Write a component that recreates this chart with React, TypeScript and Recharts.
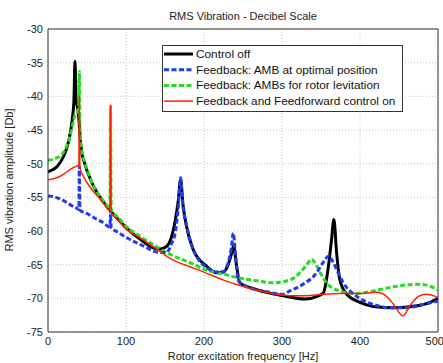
import { LineChart, Line, XAxis, YAxis, CartesianGrid, ReferenceLine } from "recharts";

// Control off
const offF = [0, 6, 12, 20, 27, 31, 33.3, 34.6, 36, 37.5, 39.7, 41, 43, 46, 55, 65, 80, 90, 101, 118, 130, 143, 152, 158, 163, 167, 170, 173, 177.5, 186, 203, 216, 225, 231, 235, 238, 241, 246, 267, 300, 330, 345, 353, 359, 363.5, 366.5, 370, 374, 383, 400, 417, 443, 473, 490, 500];
const offDb = [-51.2, -50.9, -50.4, -48.9, -46.4, -43.5, -40.5, -34.8, -40.5, -41.5, -43.5, -46, -48.2, -49.6, -52.5, -54.7, -57, -58.3, -59.6, -61.2, -62.2, -62.7, -62.3, -61, -58.5, -55.5, -52.4, -56, -59.3, -62.7, -65.2, -66.2, -66.1, -65, -63.5, -62.2, -64.5, -67.7, -68.7, -69.6, -70.1, -69.7, -69.2, -65.7, -61.3, -58.3, -63.2, -67.2, -69.4, -70.6, -71.2, -71.4, -71.1, -70.6, -70.0];

// Feedback: AMB at optimal position
const optF = [0, 10, 20, 30, 36.8, 39.5, 40.2, 41, 50, 60, 70, 79.4, 80.2, 81, 90, 101, 122, 143, 152, 158, 163, 167, 170, 173, 178, 186, 207, 218, 225, 231, 235, 237.6, 240, 244, 259, 280, 301, 310, 327, 344.5, 352, 360, 365, 370, 378.6, 395.7, 417, 438, 460, 481, 500];
const optDb = [-54.8, -55.0, -55.5, -56.2, -56.6, -56.8, -50.4, -56.9, -57.4, -58.1, -58.7, -59.4, -57.3, -59.5, -60.2, -61.0, -62.2, -63.2, -63.2, -62.0, -60.3, -56.5, -52.1, -56.3, -59.3, -62.7, -65.7, -66.1, -66.0, -64.7, -62.5, -60.3, -63.0, -67.4, -68.4, -69.0, -69.4, -68.9, -67.9, -66.2, -64.8, -63.7, -64.5, -65.7, -67.7, -69.7, -70.9, -71.4, -71.4, -70.9, -70.4];

// Feedback: AMBs for rotor levitation
const levF = [0, 10, 18, 24, 28, 31, 35, 37.6, 39.4, 40.2, 41, 43, 46, 50, 55, 65, 72, 79.4, 80.2, 81, 90, 101, 118, 143, 161, 182, 203, 225, 246, 268, 289, 303, 315, 327, 333, 338, 343, 349, 357, 374, 396, 417, 438, 460, 475, 490, 500];
const levDb = [-49.5, -49.2, -48.6, -47.4, -46, -44.5, -42.7, -42.3, -41.5, -36.3, -44.5, -47.8, -49.4, -50.8, -52.4, -54.6, -55.7, -56.7, -41.5, -56.9, -58.0, -59.4, -60.8, -62.6, -63.7, -64.7, -65.8, -66.4, -67.0, -67.4, -67.7, -67.5, -67.0, -65.7, -64.8, -64.2, -64.9, -66.2, -67.7, -68.9, -69.3, -68.9, -68.4, -68.0, -67.9, -68.2, -68.8];

// Feedback and Feedforward control on
const ffF = [0, 8, 15, 22, 28, 34, 38.5, 39.6, 40.2, 40.8, 45, 50, 58, 65, 72, 79.4, 80.2, 81, 90, 101, 118, 143, 160, 182, 200, 225, 246, 268, 289, 310, 330, 353, 375, 396, 421, 434, 441, 447, 455, 464, 475, 485, 500];
const ffDb = [-52.4, -52.2, -51.9, -51.4, -50.9, -50.5, -50.3, -50.3, -40.0, -50.6, -51.8, -52.8, -54.1, -55.0, -56.0, -57.0, -41.3, -57.2, -58.4, -59.8, -61.0, -63.0, -64.3, -65.3, -66.1, -67.3, -68.1, -68.8, -69.3, -69.6, -69.6, -69.4, -69.3, -69.3, -69.1, -69.7, -70.6, -71.6, -72.6, -71.1, -69.7, -69.4, -69.9];

const xTicks = [0, 100, 200, 300, 400, 500];
const yTicks = [-75, -70, -65, -60, -55, -50, -45, -40, -35, -30];

const seriesNames = [
    "Control off",
    "Feedback: AMB at optimal position",
    "Feedback: AMBs for rotor levitation",
    "Feedback and Feedforward control on",
];

const toPoints = (fs: number[], dbs: number[]) =>
    fs.map((f, i) => ({ f, db: dbs[i] }));

const font = "'Liberation Sans', Arial, Helvetica, sans-serif";

const styles = [
    { color: "#000000", width: 3, dash: undefined },
    { color: "#1f3cf0", width: 3, dash: "5 2.5" },
    { color: "#22dd22", width: 3, dash: "5 2.5" },
    { color: "#ff2200", width: 1.5, dash: undefined },
];

export default function App() {
    const series = [
        toPoints(offF, offDb),
        toPoints(optF, optDb),
        toPoints(levF, levDb),
        toPoints(ffF, ffDb),
    ];
    // draw order: black, green, blue, red
    const order = [0, 2, 1, 3];

    return (
        <div style={{ position: "absolute", left: 0, top: 0, width: 443, height: 363, background: "#fff" }}>
            <LineChart
                width={443}
                height={363}
                margin={{ top: 29, right: 5, bottom: 0, left: 0 }}
            >
                <CartesianGrid stroke="#c4c4c4" strokeDasharray="1 2" />
                <XAxis
                    dataKey="f"
                    type="number"
                    domain={[0, 500]}
                    ticks={xTicks}
                    allowDataOverflow
                    height={31}
                    tickLine={false}
                    tickSize={3}
                    tickMargin={2}
                    stroke="#333"
                    tick={{ fill: "#222", fontSize: 11, fontFamily: font }}
                />
                <YAxis
                    type="number"
                    domain={[-75, -30]}
                    ticks={yTicks}
                    allowDataOverflow
                    width={48}
                    tickLine={false}
                    tickSize={3}
                    tickMargin={2}
                    stroke="#333"
                    tick={{ fill: "#222", fontSize: 11, fontFamily: font }}
                />
                <ReferenceLine x={500} stroke="#333" />
                <ReferenceLine y={-30} stroke="#333" />
                {order.map((i) => (
                    <Line
                        key={i}
                        data={series[i]}
                        dataKey="db"
                        type="monotone"
                        stroke={styles[i].color}
                        strokeWidth={styles[i].width}
                        strokeDasharray={styles[i].dash}
                        dot={false}
                        activeDot={false}
                        isAnimationActive={false}
                    />
                ))}
            </LineChart>
            <svg
                width={443}
                height={363}
                style={{ position: "absolute", left: 0, top: 0, pointerEvents: "none" }}
            >
                <text x={243} y={20} textAnchor="middle" fontSize={11} fontFamily={font} fill="#222">
                    RMS Vibration - Decibel Scale
                </text>
                <text x={243} y={360} textAnchor="middle" fontSize={11} fontFamily={font} fill="#222">
                    Rotor excitation frequency [Hz]
                </text>
                <text
                    x={13}
                    y={180}
                    transform="rotate(-90 13 180)"
                    textAnchor="middle"
                    fontSize={11}
                    fontFamily={font}
                    fill="#222"
                >
                    RMS vibration amplitude [Db]
                </text>
                <rect x={162.5} y={45.5} width={240} height={66} fill="#fff" stroke="#333" strokeWidth={1} />
                {seriesNames.map((name, i) => {
                    const y = 54 + i * 15.7;
                    return (
                        <g key={name}>
                            <line
                                x1={164}
                                x2={193}
                                y1={y}
                                y2={y}
                                stroke={styles[i].color}
                                strokeWidth={styles[i].width}
                                strokeDasharray={styles[i].dash}
                            />
                            <text x={196} y={y + 4} fontSize={11.8} fontFamily={font} fill="#111">
                                {name}
                            </text>
                        </g>
                    );
                })}
            </svg>
        </div>
    );
}
